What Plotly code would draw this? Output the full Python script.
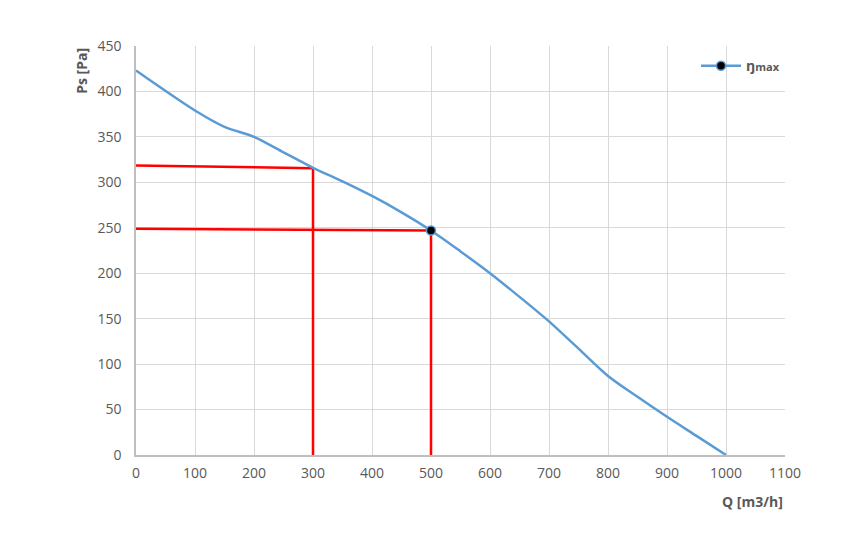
import plotly.graph_objects as go

# Fan curve data
q_vals = [0, 100, 150, 200, 250, 300, 350, 400, 450, 500, 550, 600, 650, 700, 750, 800, 850, 900, 950, 1000]
ps_vals = [423, 379, 361, 350, 333, 316, 301, 285, 267, 247, 224, 200, 174, 147, 117, 87, 64, 42, 21, 0]

# Max-efficiency point
eta_q = [500]
eta_ps = [247]

# Red guide lines
guide1_q = [0, 300, 300]
guide1_ps = [318.5, 315.5, 0]
guide2_q = [0, 500, 500]
guide2_ps = [249, 247, 0]

x_ticks = [0, 100, 200, 300, 400, 500, 600, 700, 800, 900, 1000, 1100]
y_ticks = [0, 50, 100, 150, 200, 250, 300, 350, 400, 450]

blue = "#5b9bd5"
red = "#ff0000"
font_fam = "Open Sans, Liberation Sans, sans-serif"

fig = go.Figure()
fig.add_trace(go.Scatter(x=guide1_q, y=guide1_ps, mode="lines",
                         line=dict(color=red, width=2.5), showlegend=False, hoverinfo="skip"))
fig.add_trace(go.Scatter(x=guide2_q, y=guide2_ps, mode="lines",
                         line=dict(color=red, width=2.5), showlegend=False, hoverinfo="skip"))
fig.add_trace(go.Scatter(x=q_vals, y=ps_vals, mode="lines",
                         line=dict(color=blue, width=2.5, shape="spline", smoothing=0.8),
                         showlegend=False))
fig.add_trace(go.Scatter(x=eta_q, y=eta_ps, mode="lines+markers",
                         name="<b>ŋ</b><span style='font-size:11px'><b>max</b></span>",
                         line=dict(color=blue, width=2.5),
                         marker=dict(color="black", size=9, line=dict(color=blue, width=1.5))))

fig.update_layout(
    width=850, height=527,
    margin=dict(l=128, r=73, t=38, b=80),
    paper_bgcolor="white", plot_bgcolor="white",
    font=dict(family=font_fam, size=14, color="#595959"),
    xaxis=dict(range=[0, 1100], tickvals=x_ticks, showgrid=True, gridcolor="#d9d9d9", gridwidth=1,
               showline=True, linecolor="#bfbfbf", linewidth=1.5, zeroline=False,
               ticks="", ticklen=0, ticklabelstandoff=4, tickfont=dict(size=14, color="#595959")),
    yaxis=dict(range=[0, 450], tickvals=y_ticks, showgrid=True, gridcolor="#d9d9d9", gridwidth=1,
               showline=True, linecolor="#bfbfbf", linewidth=1.5, zeroline=False,
               ticks="", ticklen=0, ticklabelstandoff=10, tickfont=dict(size=14, color="#595959")),
    legend=dict(x=1.0, y=0.99, xanchor="right", yanchor="top", bgcolor="rgba(255,255,255,0)",
                itemwidth=40, font=dict(size=14, color="#595959")),
    annotations=[
        dict(text="<b>Ps [Pa]</b>", xref="paper", yref="paper", x=-0.085, y=1.0,
             xanchor="center", yanchor="top", textangle=-90, showarrow=False,
             font=dict(size=14, color="#595959")),
        dict(text="<b>Q [m3/h]</b>", xref="paper", yref="paper", x=1.0, y=-0.085,
             xanchor="right", yanchor="top", showarrow=False,
             font=dict(size=14, color="#595959")),
    ],
)

fig.write_html("out.html")
